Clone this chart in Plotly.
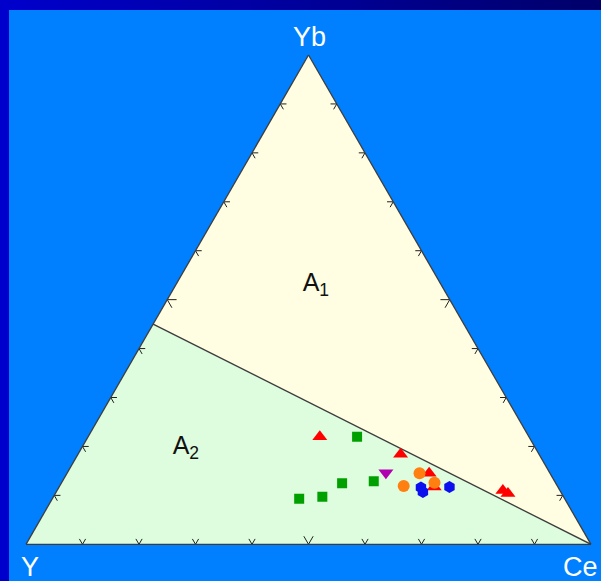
import plotly.graph_objects as go

# ---- data (percent of Yb, Y, Ce) ----
# A1 / A2 boundary: from Yb:Y = 45:55 on the Yb–Y side to the Ce apex
boundary_yb = [45, 0]
boundary_y = [55, 0]
boundary_ce = [0, 100]

red_yb = [22.0, 18.4, 14.5, 11.7, 11.0, 10.4]
red_y = [37.0, 24.5, 21.4, 21.9, 10.1, 9.5]
red_ce = [41.0, 57.1, 64.1, 66.4, 78.9, 80.1]

green_yb = [22.0, 12.5, 12.9, 9.3, 9.7]
green_y = [30.4, 37.8, 32.0, 47.0, 42.7]
green_ce = [47.6, 49.7, 55.1, 43.7, 47.6]

magenta_yb = [14.6]
magenta_y = [29.0]
magenta_ce = [56.4]

orange_yb = [14.5, 11.9, 12.6]
orange_y = [23.1, 27.2, 21.4]
orange_ce = [62.4, 60.9, 66.0]

blue_yb = [11.6, 10.7, 11.7]
blue_y = [24.3, 24.4, 19.2]
blue_ce = [64.1, 64.9, 69.1]

tick_values = [10, 20, 30, 40, 50, 60, 70, 80, 90]

field_labels = ["A<sub>1</sub>", "A<sub>2</sub>"]
field_yb = [53.0, 19.8]
field_y = [22.2, 61.8]
field_ce = [24.8, 18.4]

# ---- styling ----
W, H = 601, 581
BG = "#0080FF"
A1_FILL = "#FFFDE2"
A2_FILL = "#DEFCDE"
EDGE = "#3C3C3C"
FONT = "Liberation Sans, Arial, sans-serif"

fig = go.Figure()

# field A1 (upper) and A2 (lower)
fig.add_trace(go.Scatterternary(
    a=[100, boundary_yb[0], boundary_yb[1], 100],
    b=[0, boundary_y[0], boundary_y[1], 0],
    c=[0, boundary_ce[0], boundary_ce[1], 0],
    mode="lines", fill="toself", fillcolor=A1_FILL,
    line=dict(width=0, color=A1_FILL), hoverinfo="skip"))
fig.add_trace(go.Scatterternary(
    a=[boundary_yb[0], 0, boundary_yb[1], boundary_yb[0]],
    b=[boundary_y[0], 100, boundary_y[1], boundary_y[0]],
    c=[boundary_ce[0], 0, boundary_ce[1], boundary_ce[0]],
    mode="lines", fill="toself", fillcolor=A2_FILL,
    line=dict(width=0, color=A2_FILL), hoverinfo="skip"))

# boundary line
fig.add_trace(go.Scatterternary(
    a=boundary_yb, b=boundary_y, c=boundary_ce, mode="lines",
    line=dict(color=EDGE, width=1.3), hoverinfo="skip"))

# chevron tick marks along the three sides, arms following the grid directions
arm = 1.1
ta, tb, tc = [], [], []
for t in tick_values:
    s = arm * (1.5 if t == 50 else 1.0)
    groups = [
        # Y–Ce side (Yb = 0)
        [(s, 100 - t, t - s), (0, 100 - t, t), (s, 100 - t - s, t)],
        # Y–Yb side (Ce = 0)
        [(t, 100 - t - s, s), (t, 100 - t, 0), (t - s, 100 - t, s)],
        # Yb–Ce side (Y = 0)
        [(t, s, 100 - t - s), (t, 0, 100 - t), (t - s, s, 100 - t)],
    ]
    for g in groups:
        for (pa, pb, pc) in g:
            ta.append(pa); tb.append(pb); tc.append(pc)
        ta.append(None); tb.append(None); tc.append(None)
fig.add_trace(go.Scatterternary(
    a=ta, b=tb, c=tc, mode="lines",
    line=dict(color="#202020", width=1), hoverinfo="skip"))

# field names
fig.add_trace(go.Scatterternary(
    a=field_yb, b=field_y, c=field_ce, mode="text", text=field_labels,
    textfont=dict(family=FONT, size=25, color="#111111"), hoverinfo="skip"))

# samples
def samples(a, b, c, symbol, color, size):
    fig.add_trace(go.Scatterternary(
        a=a, b=b, c=c, mode="markers",
        marker=dict(symbol=symbol, color=color, size=size, line=dict(width=0))))

samples(green_yb, green_y, green_ce, "square", "#00A000", 10)
samples(red_yb, red_y, red_ce, "triangle-up", "#FF0000", 13)
samples(magenta_yb, magenta_y, magenta_ce, "triangle-down", "#B000B0", 13)
samples(orange_yb, orange_y, orange_ce, "circle", "#FF7F10", 12)
samples(blue_yb, blue_y, blue_ce, "hexagon", "#0A10EE", 12)

axis_style = dict(showline=True, linecolor=EDGE, linewidth=1.3,
                  showgrid=False, showticklabels=False, ticks="", title=dict(text=""))

# frame: dark left strip and a graded top strip
shapes = [dict(type="rect", xref="paper", yref="paper", x0=0, x1=9 / W, y0=0, y1=1,
               fillcolor="#0000CC", line=dict(width=0), layer="below")]
steps = 60
for i in range(steps):
    f = i / (steps - 1)
    r = 0
    g = 0
    bcol = int(round(204 + (106 - 204) * f))
    shapes.append(dict(type="rect", xref="paper", yref="paper",
                       x0=i / steps, x1=(i + 1) / steps + 0.002,
                       y0=1 - 10 / H, y1=1,
                       fillcolor=f"rgb({r},{g},{bcol})", line=dict(width=0), layer="below"))

# vertex names
def vertex(text, px, py):
    return dict(text=text, xref="paper", yref="paper", x=px / W, y=1 - py / H,
                showarrow=False, xanchor="center", yanchor="middle",
                font=dict(family=FONT, size=27, color="white"))

annotations = [vertex("Yb", 309, 37), vertex("Y", 30, 567), vertex("Ce", 580, 567)]

xc = (26 + 282.5) / W
yc = 1 - (55 + 489.3 / 2) / H
fig.update_layout(
    width=W, height=H, margin=dict(l=0, r=0, t=0, b=0),
    paper_bgcolor=BG, plot_bgcolor=BG, showlegend=False,
    ternary=dict(
        sum=100, bgcolor=A1_FILL,
        domain=dict(x=[xc - 565 / W / 2, xc + 565 / W / 2], y=[yc - 0.43, yc + 0.43]),
        aaxis=axis_style, baxis=axis_style, caxis=axis_style),
    shapes=shapes, annotations=annotations,
)

fig.write_html("out.html")
